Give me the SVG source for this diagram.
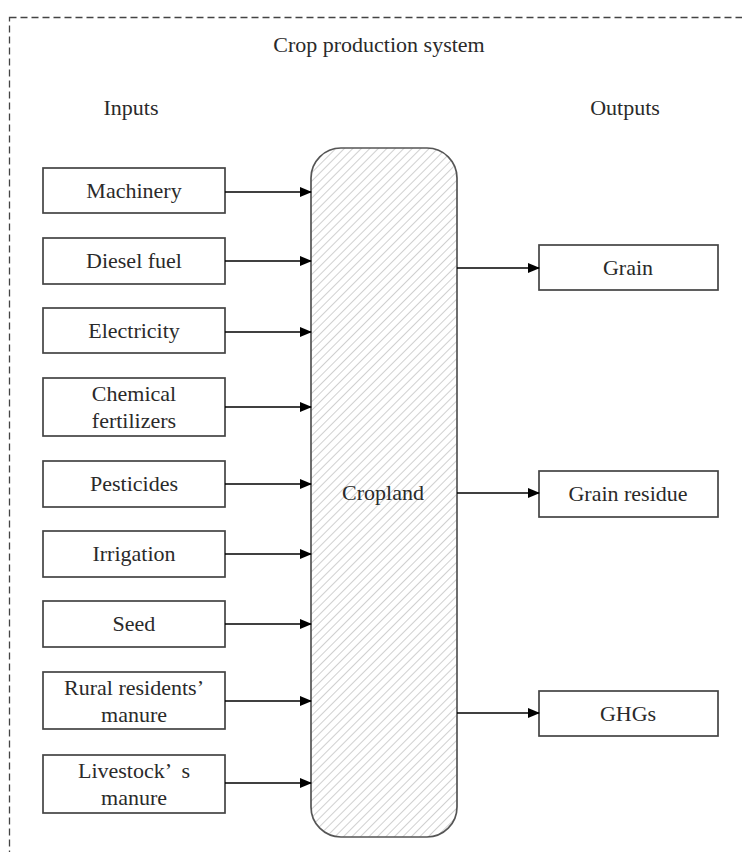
<svg xmlns="http://www.w3.org/2000/svg" width="742" height="852" viewBox="0 0 742 852">
<defs>
<pattern id="hatch" patternUnits="userSpaceOnUse" width="6" height="6" patternTransform="rotate(45)">
<line x1="0" y1="0" x2="0" y2="6" stroke="#c4c4c4" stroke-width="1.6"/>
</pattern>
<marker id="arr" markerWidth="12" markerHeight="10" refX="11" refY="5" orient="auto" markerUnits="userSpaceOnUse">
<path d="M0,0 L12,5 L0,10 Z" fill="#000"/>
</marker>
</defs>
<style>
.box{fill:#fff;stroke:#444;stroke-width:1.7}
.t{font-family:"Liberation Serif","Times New Roman",serif;font-size:22px;fill:#2a2a2a;text-anchor:middle}
.c{stroke:#000;stroke-width:1.3;fill:none;marker-end:url(#arr)}
</style>
<rect x="0" y="0" width="742" height="852" fill="#fff"/>
<rect id="system" x="9.5" y="17.5" width="760" height="870" fill="none" stroke="#444" stroke-width="1.3" stroke-dasharray="7,4"/>
<text class="t" x="379" y="52">Crop production system</text>
<text class="t" x="131" y="115">Inputs</text>
<text class="t" x="625" y="115">Outputs</text>

<g id="cropland">
<rect x="311" y="148" width="146" height="689" rx="30" fill="url(#hatch)" stroke="#555" stroke-width="1.7"/>
<text class="t" x="383" y="500">Cropland</text>
</g>

<g id="machinery"><rect class="box" x="43" y="168" width="182" height="45"/><text class="t" x="134" y="198">Machinery</text></g>
<g id="diesel"><rect class="box" x="43" y="238" width="182" height="46"/><text class="t" x="134" y="268">Diesel fuel</text></g>
<g id="electricity"><rect class="box" x="43" y="308" width="182" height="45"/><text class="t" x="134" y="338">Electricity</text></g>
<g id="chemical"><rect class="box" x="43" y="378" width="182" height="58"/><text class="t" x="134" y="401">Chemical</text><text class="t" x="134" y="428">fertilizers</text></g>
<g id="pesticides"><rect class="box" x="43" y="461" width="182" height="46"/><text class="t" x="134" y="491">Pesticides</text></g>
<g id="irrigation"><rect class="box" x="43" y="531" width="182" height="46"/><text class="t" x="134" y="561">Irrigation</text></g>
<g id="seed"><rect class="box" x="43" y="601" width="182" height="46"/><text class="t" x="134" y="631">Seed</text></g>
<g id="rural"><rect class="box" x="43" y="672" width="182" height="57"/><text class="t" x="134" y="695">Rural residents’ </text><text class="t" x="134" y="722">manure</text></g>
<g id="livestock"><rect class="box" x="43" y="755" width="182" height="58"/><text class="t" x="134" y="778" xml:space="preserve">Livestock’  s</text><text class="t" x="134" y="805">manure</text></g>

<g id="grain"><rect class="box" x="539" y="245" width="179" height="45"/><text class="t" x="628" y="275">Grain</text></g>
<g id="residue"><rect class="box" x="539" y="471" width="179" height="46"/><text class="t" x="628" y="501">Grain residue</text></g>
<g id="ghgs"><rect class="box" x="539" y="691" width="179" height="45"/><text class="t" x="628" y="721">GHGs</text></g>

<g id="connectors">
<line class="c" x1="225" y1="192" x2="311" y2="192"/>
<line class="c" x1="225" y1="261" x2="311" y2="261"/>
<line class="c" x1="225" y1="332" x2="311" y2="332"/>
<line class="c" x1="225" y1="407" x2="311" y2="407"/>
<line class="c" x1="225" y1="484" x2="311" y2="484"/>
<line class="c" x1="225" y1="554" x2="311" y2="554"/>
<line class="c" x1="225" y1="624" x2="311" y2="624"/>
<line class="c" x1="225" y1="701" x2="311" y2="701"/>
<line class="c" x1="225" y1="783" x2="311" y2="783"/>
<line class="c" x1="457" y1="268" x2="539" y2="268"/>
<line class="c" x1="457" y1="493" x2="539" y2="493"/>
<line class="c" x1="457" y1="713" x2="539" y2="713"/>
</g>
</svg>
